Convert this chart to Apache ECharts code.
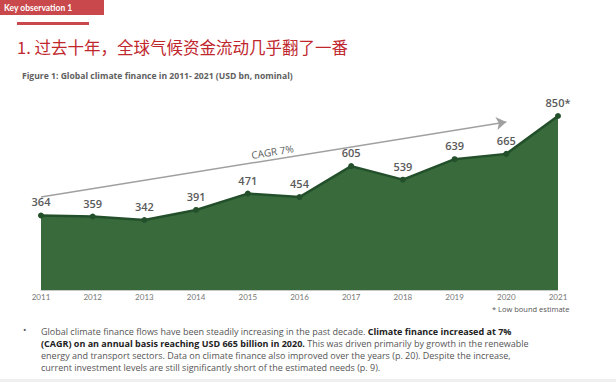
<!DOCTYPE html>
<html><head><meta charset="utf-8">
<script src="https://cdn.jsdelivr.net/npm/echarts@6/dist/echarts.min.js"></script>
<style>html,body{margin:0;padding:0;background:#fff;}#c{width:616px;height:382px;}</style>
</head><body><div id="c"></div>
<script>
var years = ['2011','2012','2013','2014','2015','2016','2017','2018','2019','2020','2021'];
var finance = [364, 359, 342, 391, 471, 454, 605, 539, 639, 665, 850];
var valueLabels = ['364','359','342','391','471','454','605','539','639','665','850*'];
var cagrStart = ['2011', 454];
var cagrEnd = ['2020', 821];

var chart = echarts.init(document.getElementById('c'), null, {renderer: 'svg'});
var grey = '#5a5a5a';
var option = {
  animation: false,
  grid: {left: 41, right: 58, top: 116, bottom: 92},
  xAxis: {
    type: 'category', data: years, boundaryGap: false,
    axisLine: {show: true, lineStyle: {color: '#c8c8c8', width: 1}},
    axisTick: {show: false},
    axisLabel: {color: '#777', fontSize: 8, margin: 3, fontFamily: 'Lato'}
  },
  yAxis: {type: 'value', min: 0, max: 850, show: false, splitLine: {show: false}},
  series: [{
    type: 'line', data: finance,
    symbol: 'circle', symbolSize: 6,
    itemStyle: {color: '#23502a'},
    lineStyle: {color: '#23502a', width: 2.5},
    areaStyle: {color: '#386a3c', opacity: 1},
    label: {
      show: true, position: 'top', distance: 5,
      color: grey, fontSize: 11, fontFamily: 'Open Sans', fontWeight: 600,
      formatter: function (p) { return valueLabels[p.dataIndex]; }
    },
    markLine: {
      silent: true, symbol: ['none', 'arrow'], symbolSize: [10, 10],
      lineStyle: {color: '#a0a0a0', width: 1.5, type: 'solid'},
      label: {show: true, position: 'middle', formatter: 'CAGR 7%', color: grey,
        fontSize: 10, fontFamily: 'Open Sans', distance: 3},
      data: [[{coord: cagrStart}, {coord: cagrEnd}]]
    }
  }],
  graphic: [
    {type: 'rect', shape: {x: 0, y: 0, width: 104, height: 15}, style: {fill: '#c9484b'}},
    {type: 'text', x: 4, y: 3, style: {text: 'Key observation 1', fill: '#fff', font: 'bold 8.5px Lato'}},
    {type: 'rect', shape: {x: 17, y: 22, width: 72, height: 3}, style: {fill: '#c9484b'}},
    {type: 'text', x: 17, y: 39, style: {text: '1. 过去十年，全球气候资金流动几乎翻了一番', fill: '#c0272d', font: '16.5px "Noto Sans CJK SC"'}},
    {type: 'text', x: 22, y: 71, style: {text: 'Figure 1: Global climate finance in 2011- 2021 (USD bn, nominal)', fill: '#606060', font: 'bold 8.6px "Open Sans"'}},
    {type: 'text', x: 492, y: 305, style: {text: '* Low bound estimate', fill: '#555', font: '7.5px "Open Sans"'}},
    {type: 'text', x: 23, y: 325, style: {text: '•', fill: '#555', font: '9px "Open Sans"'}},
    {type: 'text', x: 41, y: 325, style: {
      text: '{n|Global climate finance flows have been steadily increasing in the past decade. }{b|Climate finance increased at 7%}\n' +
            '{b|(CAGR) on an annual basis reaching USD 665 billion in 2020.}{n| This was driven primarily by growth in the renewable}\n' +
            '{n|energy and transport sectors. Data on climate finance also improved over the years (p. 20). Despite the increase,}\n' +
            '{n|current investment levels are still significantly short of the estimated needs (p. 9).}',
      rich: {
        n: {fill: '#555', font: '9px "Open Sans"', lineHeight: 12},
        b: {fill: '#222', font: 'bold 9px "Open Sans"', lineHeight: 12}
      }
    }},
    {type: 'rect', shape: {x: 0, y: 379, width: 616, height: 3}, style: {fill: '#efefef'}}
  ]
};
chart.setOption(option);
</script></body></html>
